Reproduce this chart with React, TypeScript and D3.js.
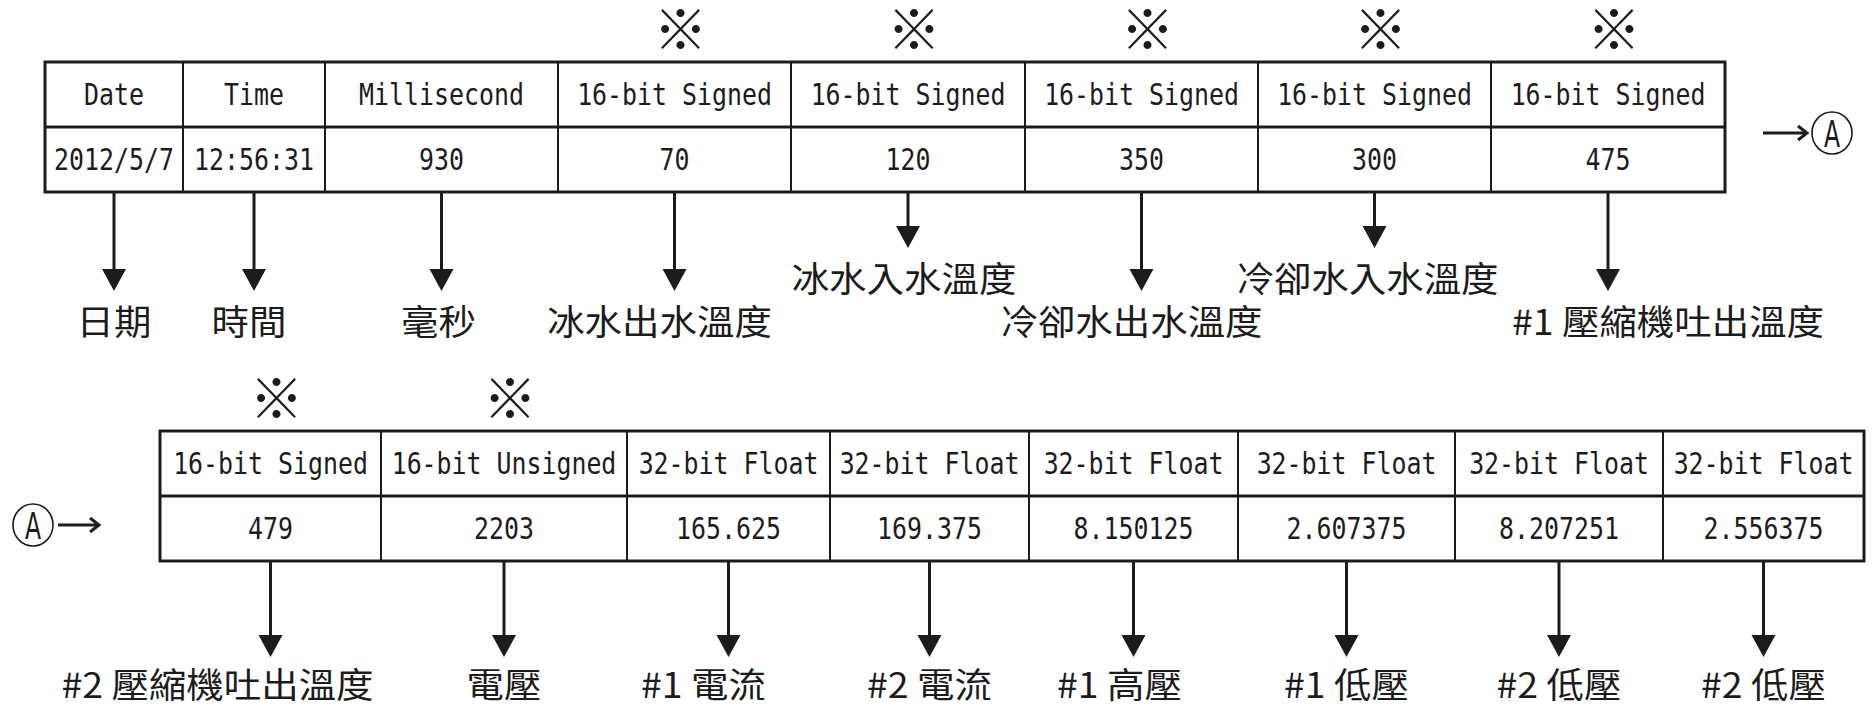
import React from "react";
import * as d3 from "d3";

// first line of the log record
const topTypes = [
  "Date",
  "Time",
  "Millisecond",
  "16-bit Signed",
  "16-bit Signed",
  "16-bit Signed",
  "16-bit Signed",
  "16-bit Signed",
];
const topValues = ["2012/5/7", "12:56:31", "930", "70", "120", "350", "300", "475"];
const topNames = [
  "日期",
  "時間",
  "毫秒",
  "冰水出水溫度",
  "冰水入水溫度",
  "冷卻水出水溫度",
  "冷卻水入水溫度",
  "#1 壓縮機吐出溫度",
];
const topMarked = [false, false, false, true, true, true, true, true];
const topShort = [false, false, false, false, true, false, true, false];

// continuation (Ⓐ)
const bottomTypes = [
  "16-bit Signed",
  "16-bit Unsigned",
  "32-bit Float",
  "32-bit Float",
  "32-bit Float",
  "32-bit Float",
  "32-bit Float",
  "32-bit Float",
];
const bottomValues = [
  "479",
  "2203",
  "165.625",
  "169.375",
  "8.150125",
  "2.607375",
  "8.207251",
  "2.556375",
];
const bottomNames = [
  "#2 壓縮機吐出溫度",
  "電壓",
  "#1 電流",
  "#2 電流",
  "#1 高壓",
  "#1 低壓",
  "#2 低壓",
  "#2 低壓",
];
const bottomMarked = [true, true, false, false, false, false, false, false];
const bottomShort = [false, false, false, false, false, false, false, false];

// layout
const W = 1873;
const H = 708;
const INK = "#1c1c1c";
const MONO = "'DejaVu Sans Mono', monospace";
const CJK = "'Noto Sans CJK TC', 'Noto Sans CJK JP', sans-serif";
const topColW = [138, 142, 233, 233, 234, 233, 233, 234];
const bottomColW = [221, 246, 203, 199, 209, 217, 208, 201];
const topNudge = [0, -5, -3, -15, -4, -10, -7, 60];
const bottomNudge = [-53, 0, -25, 0, -14, 0, 0, 0];

function Squeeze({ x, y, sx = 1, size, family, dy = "0.36em", weight = "normal", children }) {
  return (
    <text
      transform={`translate(${x},${y}) scale(${sx},1)`}
      textAnchor="middle"
      dy={dy}
      fontSize={size}
      fontFamily={family}
      fontWeight={weight}
      fill={INK}
    >
      {children}
    </text>
  );
}

function Record({ types, values, names, marked, short, widths, left, top, nudge, tipLong, tipShort, gap }) {
  const edges = [0, ...d3.cumsum(widths)];
  const total = edges[edges.length - 1];
  const x = d3.scaleLinear().domain([0, total]).range([left, left + total]);
  const y = d3.scaleLinear().domain([0, 2]).range([top, top + 130]);
  const center = (i) => (x(edges[i]) + x(edges[i + 1])) / 2;

  return (
    <g>
      {/* cells */}
      {edges.slice(1, -1).map((e, i) => (
        <line key={`v${i}`} x1={x(e)} x2={x(e)} y1={y(0)} y2={y(2)} stroke={INK} strokeWidth={2} />
      ))}
      <line x1={x(0)} x2={x(total)} y1={y(1)} y2={y(1)} stroke={INK} strokeWidth={3} />
      <rect x={x(0)} y={y(0)} width={x(total) - x(0)} height={y(2) - y(0)} fill="none" stroke={INK} strokeWidth={3} />

      {types.map((t, i) => (
        <Squeeze key={`t${i}`} x={center(i)} y={(y(0) + y(1)) / 2} sx={0.83} size={30} family={MONO}>
          {t}
        </Squeeze>
      ))}
      {values.map((v, i) => (
        <Squeeze key={`v${i}`} x={center(i)} y={(y(1) + y(2)) / 2} sx={0.83} size={30} family={MONO}>
          {v}
        </Squeeze>
      ))}

      {/* ※ marks */}
      {marked.map((m, i) =>
        m ? (
          <Squeeze key={`m${i}`} x={center(i) + 6} y={y(0) - 31} size={54} family={CJK} dy="0.36em" weight="bold">
            ※
          </Squeeze>
        ) : null
      )}

      {/* arrows and names */}
      {names.map((n, i) => {
        const cx = center(i);
        const tip = short[i] ? tipShort : tipLong;
        const head = d3.path();
        head.moveTo(cx - 12, tip - 22);
        head.lineTo(cx + 12, tip - 22);
        head.lineTo(cx, tip);
        head.closePath();
        return (
          <g key={`a${i}`}>
            <line x1={cx} x2={cx} y1={y(2) + 1} y2={tip - 20} stroke={INK} strokeWidth={3} />
            <path d={head.toString()} fill={INK} />
            <Squeeze x={cx + nudge[i]} y={tip + gap} sx={1.07} size={35} family={CJK}>
              {n}
            </Squeeze>
          </g>
        );
      })}
    </g>
  );
}

function Connector({ cy, from, to }) {
  const dir = Math.sign(to - from);
  return (
    <g>
      <line x1={from} x2={to} y1={cy} y2={cy} stroke={INK} strokeWidth={3} />
      <polyline
        points={`${to - dir * 9},${cy - 7} ${to},${cy} ${to - dir * 9},${cy + 7}`}
        fill="none"
        stroke={INK}
        strokeWidth={3}
      />
    </g>
  );
}

function CircledA({ cx, cy }) {
  return (
    <g>
      <ellipse cx={cx} cy={cy} rx={20} ry={21} fill="none" stroke={INK} strokeWidth={1.6} />
      <Squeeze x={cx} y={cy} sx={0.62} size={38} family="'DejaVu Sans', sans-serif" dy="0.36em">
        A
      </Squeeze>
    </g>
  );
}

export default function App() {
  return (
    <svg
      width={W}
      height={H}
      style={{ position: "absolute", left: 0, top: 0, background: "#fff" }}
    >
      <rect width={W} height={H} fill="#fff" />
      <Record
        types={topTypes}
        values={topValues}
        names={topNames}
        marked={topMarked}
        short={topShort}
        widths={topColW}
        left={45}
        top={62}
        nudge={topNudge}
        tipLong={291}
        tipShort={248}
        gap={31}
      />
      <Connector cy={133} from={1763} to={1807} />
      <CircledA cx={1832} cy={133} />

      <Record
        types={bottomTypes}
        values={bottomValues}
        names={bottomNames}
        marked={bottomMarked}
        short={bottomShort}
        widths={bottomColW}
        left={160}
        top={431}
        nudge={bottomNudge}
        tipLong={657}
        tipShort={657}
        gap={28}
      />
      <CircledA cx={33} cy={525} />
      <Connector cy={525} from={58} to={99} />
    </svg>
  );
}
